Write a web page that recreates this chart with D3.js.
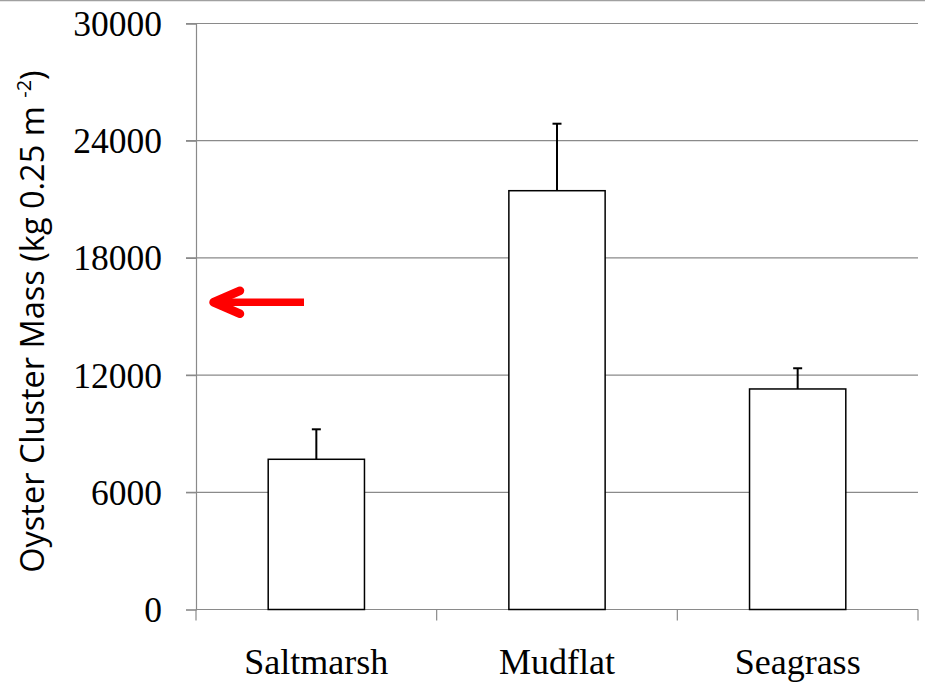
<!DOCTYPE html>
<html>
<head>
<meta charset="utf-8">
<script src="https://cdn.jsdelivr.net/npm/d3@7"></script>
<style>
  html, body { margin: 0; padding: 0; background: #fff; }
  svg { display: block; }
</style>
</head>
<body>
<svg id="chart" width="925" height="684"></svg>
<script>
// Mean oyster cluster mass per habitat, with upper standard-error whiskers
const categories = ["Saltmarsh", "Mudflat", "Seagrass"];
const means = [7690, 21440, 11290];
const errors = [1535, 3430, 1060];
const yTicks = [0, 6000, 12000, 18000, 24000, 30000];
const arrowValue = 15730; // level marked by the red arrow

const W = 925, H = 684;
const plot = { left: 196, right: 918, top: 23.5, bottom: 609.5 };

const svg = d3.select("#chart");

// thin frame line along the top edge
svg.append("line")
  .attr("x1", 0).attr("x2", W).attr("y1", 0.5).attr("y2", 0.5)
  .attr("stroke", "#a0a0a0").attr("stroke-width", 1.5);

const x = d3.scaleBand().domain(categories).range([plot.left, plot.right]).padding(0);
const y = d3.scaleLinear().domain([0, 30000]).range([plot.bottom, plot.top]);

const gridColor = "#8a8a8a";

// horizontal gridlines (drawn from the tick start across the plot)
svg.append("g")
  .selectAll("line")
  .data(yTicks.filter(d => d > 0))
  .join("line")
  .attr("x1", plot.left - 10).attr("x2", plot.right)
  .attr("y1", d => y(d)).attr("y2", d => y(d))
  .attr("stroke", gridColor).attr("stroke-width", 1.2);

// y axis
const yAxis = svg.append("g")
  .attr("transform", `translate(${plot.left},0)`)
  .call(d3.axisLeft(y).tickValues(yTicks).tickSize(10).tickPadding(24).tickFormat(d3.format("d")));
yAxis.select(".domain").attr("stroke", gridColor).attr("stroke-width", 1.2);
yAxis.selectAll(".tick line").attr("stroke", gridColor).attr("stroke-width", 1.2);
yAxis.selectAll(".tick text")
  .attr("font-family", "'Liberation Serif', 'Times New Roman', serif")
  .attr("font-size", 35.5)
  .attr("fill", "#000")
  .attr("dy", "0.34em");

// x axis with ticks at the category boundaries
const xAxisG = svg.append("g");
xAxisG.append("line")
  .attr("x1", plot.left).attr("x2", plot.right)
  .attr("y1", plot.bottom).attr("y2", plot.bottom)
  .attr("stroke", gridColor).attr("stroke-width", 1.2);
const bounds = categories.map(c => x(c)).concat([x(categories[categories.length - 1]) + x.bandwidth()]);
xAxisG.selectAll("line.tk")
  .data(bounds)
  .join("line")
  .attr("class", "tk")
  .attr("x1", d => d).attr("x2", d => d)
  .attr("y1", plot.bottom).attr("y2", plot.bottom + 11)
  .attr("stroke", gridColor).attr("stroke-width", 1.2);
xAxisG.selectAll("text")
  .data(categories)
  .join("text")
  .attr("x", d => x(d) + x.bandwidth() / 2)
  .attr("y", 674)
  .attr("text-anchor", "middle")
  .attr("font-family", "'Liberation Serif', 'Times New Roman', serif")
  .attr("font-size", 36)
  .attr("fill", "#000")
  .text(d => d);

// bars
const barW = x.bandwidth() * 0.4;
const data = categories.map((c, i) => ({ c, m: means[i], e: errors[i] }));

// error whiskers (upper only)
const eb = svg.append("g").attr("stroke", "#000").attr("stroke-width", 2);
eb.selectAll("line.v")
  .data(data)
  .join("line")
  .attr("class", "v")
  .attr("x1", d => x(d.c) + x.bandwidth() / 2).attr("x2", d => x(d.c) + x.bandwidth() / 2)
  .attr("y1", d => y(d.m)).attr("y2", d => y(d.m + d.e));
eb.selectAll("line.cap")
  .data(data)
  .join("line")
  .attr("class", "cap")
  .attr("x1", d => x(d.c) + x.bandwidth() / 2 - 4.5).attr("x2", d => x(d.c) + x.bandwidth() / 2 + 4.5)
  .attr("y1", d => y(d.m + d.e)).attr("y2", d => y(d.m + d.e));

svg.append("g")
  .selectAll("rect")
  .data(data)
  .join("rect")
  .attr("x", d => x(d.c) + (x.bandwidth() - barW) / 2)
  .attr("width", barW)
  .attr("y", d => y(d.m))
  .attr("height", d => y(0) - y(d.m))
  .attr("fill", "#fff")
  .attr("stroke", "#000")
  .attr("stroke-width", 1.5);

// y axis title
const title = svg.append("text")
  .attr("transform", `translate(44,${(plot.top + plot.bottom) / 2 + 5}) rotate(-90)`)
  .attr("text-anchor", "middle")
  .attr("font-family", "'Open Sans', Lato, sans-serif")
  .attr("font-size", 32.5)
  .attr("fill", "#000");
title.append("tspan").text("Oyster Cluster Mass (kg 0.25 m ");
title.append("tspan").attr("font-size", 20).attr("dy", -13).text("-2");
title.append("tspan").attr("dy", 13).text(")");

// red arrow pointing at the y axis
const ay = y(arrowValue);
const tipX = plot.left + 17.5;
const arrow = svg.append("g").attr("stroke", "#ff0000").attr("fill", "none");
arrow.append("line")
  .attr("x1", tipX).attr("x2", plot.left + 108)
  .attr("y1", ay).attr("y2", ay)
  .attr("stroke-width", 7.7);
arrow.append("path")
  .attr("d", `M${tipX + 26.5},${ay - 11.5} L${tipX},${ay} L${tipX + 26.5},${ay + 11.5}`)
  .attr("stroke-width", 8.5)
  .attr("stroke-linecap", "round")
  .attr("stroke-linejoin", "round");
</script>
</body>
</html>
